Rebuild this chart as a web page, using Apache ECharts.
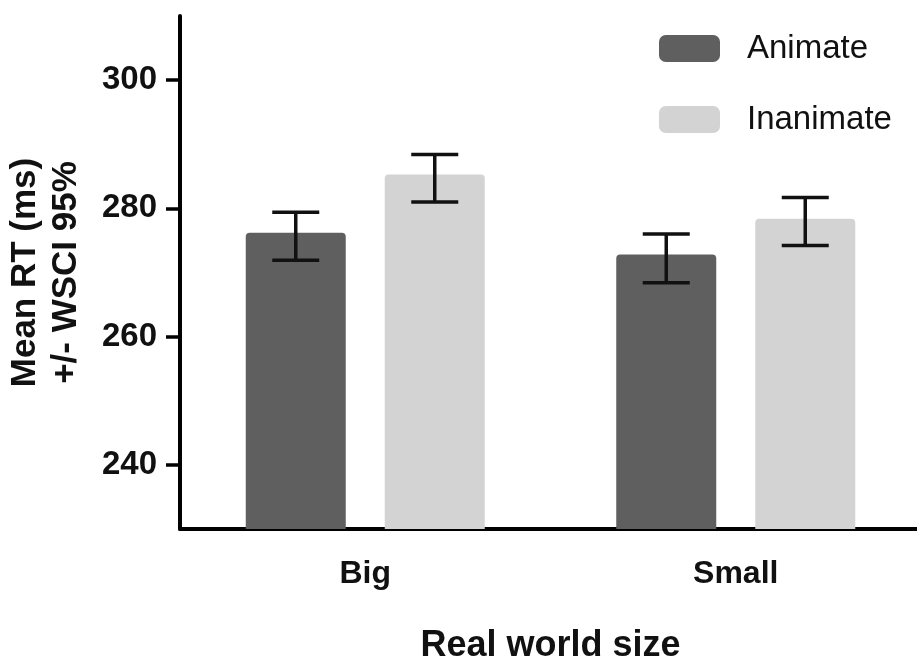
<!DOCTYPE html>
<html>
<head>
<meta charset="utf-8">
<script src="https://cdn.jsdelivr.net/npm/echarts@6/dist/echarts.min.js"></script>
<style>html,body{margin:0;padding:0;background:#fff;}#c{width:917px;height:659px;}</style>
</head>
<body>
<div id="c"></div>
<script>
const categories = ['Big', 'Small'];
const seriesNames = ['Animate', 'Inanimate'];
const animateMean = [276.2, 272.8];
const inanimateMean = [285.3, 278.4];
const animateLow = [271.9, 268.4];
const animateHigh = [279.4, 276.0];
const inanimateLow = [281.0, 274.2];
const inanimateHigh = [288.4, 281.7];
const yTicks = [240, 260, 280, 300];
const yMin = 230, yMax = 310;

const FONT = '"Liberation Sans", Arial, sans-serif';
const BAR_W = 100, BAR_GAP = 39, CAP_HALF = 23.5;
const colors = ['#5f5f5f', '#d3d3d3'];

function errData(low, high) {
  return categories.map((c, i) => [i, low[i], high[i]]);
}
function errSeries(low, high, sign) {
  return {
    type: 'custom',
    data: errData(low, high),
    z: 10,
    silent: true,
    renderItem: function (params, api) {
      const off = sign * (BAR_W + BAR_GAP) / 2;
      const lo = api.coord([api.value(0), api.value(1)]);
      const hi = api.coord([api.value(0), api.value(2)]);
      const x = lo[0] + off;
      const st = { stroke: '#111', lineWidth: 3.5 };
      return {
        type: 'group',
        children: [
          { type: 'line', shape: { x1: x, y1: lo[1], x2: x, y2: hi[1] }, style: st },
          { type: 'line', shape: { x1: x - CAP_HALF, y1: lo[1], x2: x + CAP_HALF, y2: lo[1] }, style: st },
          { type: 'line', shape: { x1: x - CAP_HALF, y1: hi[1], x2: x + CAP_HALF, y2: hi[1] }, style: st }
        ]
      };
    }
  };
}

const chart = echarts.init(document.getElementById('c'), null, { renderer: 'canvas' });
chart.setOption({
  animation: false,
  backgroundColor: '#fff',
  grid: { left: 180, top: 16, width: 741, height: 513, containLabel: false, outerBoundsMode: 'none' },
  legend: {
    orient: 'vertical',
    left: 654, top: 27,
    itemWidth: 61, itemHeight: 27, itemGap: 38,
    icon: 'roundRect',
    data: seriesNames,
    textStyle: { fontFamily: FONT, fontSize: 33, color: '#111', padding: [0, 0, 0, 22] }
  },
  xAxis: {
    type: 'category',
    data: categories,
    name: 'Real world size',
    nameLocation: 'middle',
    nameGap: 99,
    nameTextStyle: { fontFamily: FONT, fontSize: 36, fontWeight: 'bold', color: '#111' },
    axisLine: { lineStyle: { color: '#000', width: 4 } },
    axisTick: { alignWithLabel: true, length: 14, lineStyle: { color: '#000', width: 3.5 } },
    axisLabel: { fontFamily: FONT, fontSize: 32, fontWeight: 'bold', color: '#111', margin: 29 }
  },
  yAxis: {
    type: 'value',
    min: yMin, max: yMax,
    name: 'Mean RT (ms)\n+/- WSCI 95%',
    nameLocation: 'middle',
    nameGap: 93,
    nameTextStyle: { fontFamily: FONT, fontSize: 35, fontWeight: 'bold', color: '#111', lineHeight: 41 },
    splitLine: { show: false },
    axisLine: { show: true, lineStyle: { color: '#000', width: 4 } },
    axisTick: { show: true, length: 14, customValues: yTicks, lineStyle: { color: '#000', width: 3.5 } },
    axisLabel: { fontFamily: FONT, fontSize: 33, fontWeight: 'bold', color: '#111', margin: 23, customValues: yTicks }
  },
  series: [
    {
      name: seriesNames[0], type: 'bar', data: animateMean,
      barWidth: BAR_W, barGap: (BAR_GAP / BAR_W * 100) + '%',
      itemStyle: { color: colors[0], borderRadius: [4, 4, 0, 0] }
    },
    {
      name: seriesNames[1], type: 'bar', data: inanimateMean,
      barWidth: BAR_W,
      itemStyle: { color: colors[1], borderRadius: [4, 4, 0, 0] }
    },
    errSeries(animateLow, animateHigh, -1),
    errSeries(inanimateLow, inanimateHigh, 1)
  ]
});
</script>
</body>
</html>
